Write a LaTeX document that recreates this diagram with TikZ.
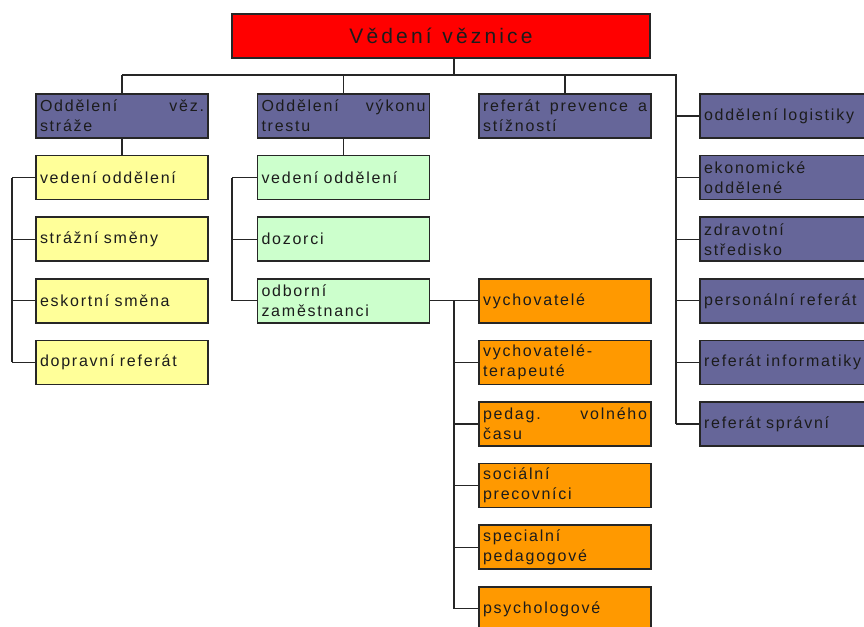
\documentclass[tikz,border=0pt]{standalone}
\usepackage{fontspec}
\newfontfamily\boxfont{Liberation Sans}[LetterSpace=11,WordSpace=1.35]
\newfontfamily\titlefont{Liberation Sans}[LetterSpace=15,WordSpace=1.2]
\tolerance=10000
\hbadness=10000
\hfuzz=5pt
\definecolor{purp}{HTML}{666699}
\definecolor{yel}{HTML}{FFFF99}
\definecolor{grn}{HTML}{CCFFCC}
\definecolor{org}{HTML}{FF9900}
\definecolor{redbox}{HTML}{FF0000}
\definecolor{ink}{HTML}{1C1C1C}
\definecolor{edge}{HTML}{262626}
\tikzset{
  box/.style={draw=edge, line width=1.5pt, minimum height=44pt, inner xsep=4pt,
    inner ysep=0pt, align=left, text=ink,
    font=\boxfont\fontsize{16}{20}\selectfont},
  narrow/.style={box, text width=164pt},
  wide/.style={box, text width=172pt},
  conn/.style={draw=edge, line width=1.2pt},
  spine/.style={draw=edge, line width=2.4pt}
}
\begin{document}
\begin{tikzpicture}[x=1pt,y=-1pt]
\clip (0,0) rectangle (864,626);
\fill[white] (0,0) rectangle (864,626);
% top
\node[box, fill=redbox, minimum width=418pt, align=center,
  font=\titlefont\fontsize{21}{25}\selectfont] (top) at (441,36) {Vědení věznice};
% level 1
\node[narrow, fill=purp] (A) at (122,116) {Oddělení\hfill věz.\\stráže};
\node[narrow, fill=purp] (B) at (343.5,116) {Oddělení\hfill výkonu\\trestu};
\node[narrow, fill=purp] (C) at (565,116) {referát\hfill prevence\hfill a\\stížností};
% right column
\node[wide, fill=purp] (R1) at (790,116) {oddělení logistiky};
\node[wide, fill=purp] (R2) at (790,177.6) {ekonomické\\oddělené};
\node[wide, fill=purp] (R3) at (790,239.2) {zdravotní\\středisko};
\node[wide, fill=purp] (R4) at (790,300.8) {personální referát};
\node[wide, fill=purp] (R5) at (790,362.4) {referát informatiky};
\node[wide, fill=purp] (R6) at (790,424) {referát správní};
% yellow
\node[narrow, fill=yel] (Y1) at (122,177.6) {vedení oddělení};
\node[narrow, fill=yel] (Y2) at (122,239.2) {strážní směny};
\node[narrow, fill=yel] (Y3) at (122,300.8) {eskortní směna};
\node[narrow, fill=yel] (Y4) at (122,362.4) {dopravní referát};
% green
\node[narrow, fill=grn] (G1) at (343.5,177.6) {vedení oddělení};
\node[narrow, fill=grn] (G2) at (343.5,239.2) {dozorci};
\node[narrow, fill=grn] (G3) at (343.5,300.8) {odborní\\zaměstnanci};
% orange
\node[narrow, fill=org] (O1) at (565,300.8) {vychovatelé};
\node[narrow, fill=org] (O2) at (565,362.4) {vychovatelé-\\terapeuté};
\node[narrow, fill=org] (O3) at (565,424) {pedag.\hfill volného\\času};
\node[narrow, fill=org] (O4) at (565,485.6) {sociální\\precovníci};
\node[narrow, fill=org] (O5) at (565,547.2) {specialní\\pedagogové};
\node[narrow, fill=org] (O6) at (565,608.8) {psychologové};
% connectors
\coordinate (j) at (454,75);
\coordinate (rv) at (676,75);
\coordinate (ys) at (12,0);
\coordinate (gs) at (232,0);
\coordinate (os) at (454,0);
\draw[conn] (j |- top.south) -- (j);
\draw[conn] (A.north |- rv) -- (rv) -- (rv |- R6.west);
\draw[conn] (A.north |- rv) -- (A.north);
\draw[conn] (B.north |- rv) -- (B.north);
\draw[conn] (C.north |- rv) -- (C.north);
\foreach \n in {R1,R2,R3,R4,R5,R6} \draw[conn] (rv |- \n.west) -- (\n.west);
\draw[conn] (A.south) -- (Y1.north);
\draw[conn] (ys |- Y1.west) -- (ys |- Y4.west);
\foreach \n in {Y1,Y2,Y3,Y4} \draw[conn] (ys |- \n.west) -- (\n.west);
\draw[conn] (B.south) -- (G1.north);
\draw[conn] (gs |- G1.west) -- (gs |- G3.west);
\foreach \n in {G1,G2,G3} \draw[conn] (gs |- \n.west) -- (\n.west);
\draw[conn] (G3.east) -- (O1.west);
\draw[spine] (os |- O1.west) -- (os |- O6.west);
\foreach \n in {O2,O3,O4,O5,O6} \draw[conn] (os |- \n.west) -- (\n.west);
\end{tikzpicture}
\end{document}
